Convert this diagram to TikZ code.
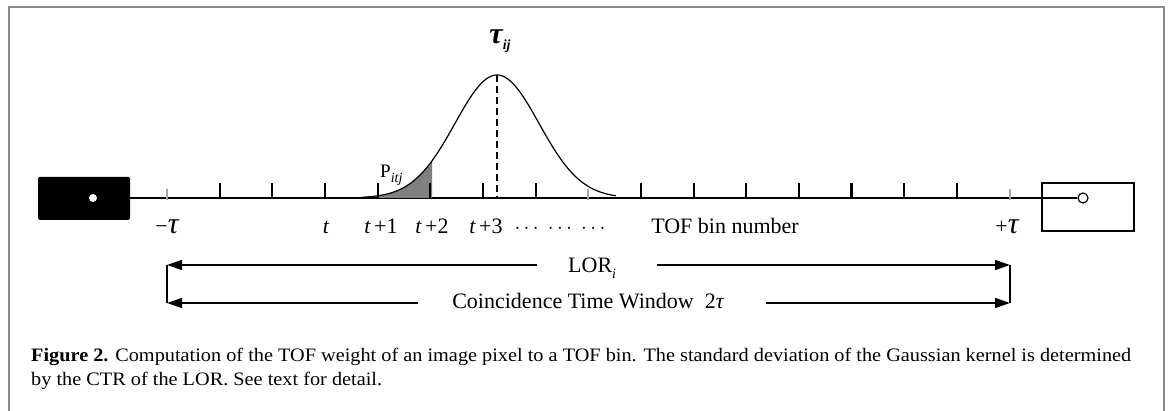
\documentclass[tikz,border=0pt]{standalone}
\usepackage{fontspec}
\setmainfont{Liberation Serif}
\usetikzlibrary{arrows.meta}

\tikzset{
  axisline/.style={line width=2.4pt},
  tickblk/.style={line width=2.2pt},
  tickgry/.style={line width=2pt, draw=black!35},
  lbl/.style={font=\fontsize{22}{24}\selectfont, inner sep=0pt},
  dimline/.style={line width=1.5pt},
  dimarrow/.style={line width=1.5pt, -{Triangle[length=15pt,width=10pt]}},
  kernel/.style={line width=1.2pt},
  frameline/.style={line width=2pt, draw=black!45},
}

% Gaussian kernel: centre, peak height, sigma (px), baseline
\def\gc{497}
\def\gh{123}
\def\gs{42}
\def\gb{198}

\newcommand{\sub}[1]{\raisebox{-0.5ex}{\fontsize{14}{14}\selectfont\itshape #1}}
\newcommand{\bigtau}{{\fontsize{30}{30}\selectfont\itshape τ}}
\newcommand{\capline}{\textbf{Figure 2.} Computation of the TOF weight of an image pixel to a TOF bin. The standard deviation of the Gaussian kernel is determined}
\newlength\caplen

\begin{document}
\settowidth\caplen{\fontsize{19}{23}\selectfont\capline}%
\pgfmathsetmacro\capsx{1100/\caplen}%
\begin{tikzpicture}[x=1pt,y=-1pt]
\useasboundingbox (0,0) rectangle (1168,411);

% outer frame, open at the bottom
\begin{scope}
  \clip (0,0) rectangle (1168,411);
  \draw[frameline] (8.5,430) -- (8.5,7) -- (1164,7) -- (1164,430);
\end{scope}

% detectors
\node[fill=black, rounded corners=1.5pt, minimum width=92pt, minimum height=43pt,
      inner sep=0pt] (detL) at (84,198.5) {};
\node[draw=black, line width=2pt, minimum width=92pt, minimum height=48pt,
      inner sep=0pt] (detR) at (1088,207) {};
\node[circle, fill=white, minimum size=8pt, inner sep=0pt] (ptL) at (93,198) {};
\node[circle, draw=black, fill=white, line width=1.2pt, minimum size=10pt, inner sep=0pt] (ptR) at (1083,198) {};

% line of response
\draw[axisline] (ptL) -- (ptR);

% shaded weight between bins t+1 and t+2
\fill[black!50] (379,\gb) -- plot[domain=379:432, samples=40]
  (\x, {\gb-\gh*exp(-0.5*((\x-\gc)/\gs)^2)}) -- (432,\gb) -- cycle;

% TOF bin ticks
\foreach \k in {0,...,16} {
  \pgfmathsetmacro\tx{167+52.66*\k}
  \coordinate (tk\k) at (\tx,198);
  \ifnum\k=0 \draw[tickgry] (\tx,189) -- (\tx,200);
  \else\ifnum\k=8 \draw[tickgry] (\tx,189) -- (\tx,200);
  \else\ifnum\k=16 \draw[tickgry] (\tx,189) -- (\tx,200);
  \else \draw[tickblk] (\tx,183) -- (\tx,198.5);
  \fi\fi\fi
}

% Gaussian kernel and its centre
\draw[kernel] plot[domain=362:616, samples=120]
  (\x, {\gb-\gh*exp(-0.5*((\x-\gc)/\gs)^2)});
\coordinate (peak) at (\gc,{\gb-\gh});
\coordinate (foot) at (\gc,\gb);
\draw[line width=1.2pt, dash pattern=on 7pt off 4pt] (peak) -- (foot);

% labels
\node[lbl, anchor=base] (tauij) at (500,44) {\bfseries\bigtau\sub{ij}};
\node[lbl, anchor=base west, font=\fontsize{19}{20}\selectfont] (pitj) at (380,178) {P\sub{itj}};
\node[lbl, anchor=base] (mtau) at (167,234) {−\bigtau};
\node[lbl, anchor=base] (lt)   at (326,234) {\itshape t};
\node[lbl, anchor=base] (lt1)  at (381,234) {{\itshape t}\,+1};
\node[lbl, anchor=base] (lt2)  at (432,234) {{\itshape t}\,+2};
\node[lbl, anchor=base] (lt3)  at (486,234) {{\itshape t}\,+3};
\node[lbl, anchor=base] (dots) at (560,234) {$\cdots$\, $\cdots$\, $\cdots$};
\node[lbl, anchor=base] (bin)  at (725,234) {TOF bin number};
\node[lbl, anchor=base] (ptau) at (1007,234) {+\bigtau};

% LOR span and coincidence window
\coordinate (lorL) at (167,265);
\coordinate (lorR) at (1010,265);
\coordinate (ctwL) at (167,303);
\coordinate (ctwR) at (1010,303);
\node[lbl, anchor=base west] (lor) at (568,273) {LOR\sub{i}};
\node[lbl] (ctw) at (588,301) {Coincidence Time Window\ \ 2{\itshape τ}};

\draw[dimline] (lorL) -- (ctwL);
\draw[dimline] (lorR) -- (ctwR);
\draw[dimarrow] (537,265) -- (lorL);
\draw[dimarrow] (657,265) -- (lorR);
\draw[dimarrow] (418,303) -- (ctwL);
\draw[dimarrow] (766,303) -- (ctwR);

% caption
\node[anchor=west, inner sep=0pt] (cap1) at (31,357)
  {\scalebox{\capsx}[1]{\fontsize{19}{23}\selectfont\capline}};
\node[anchor=west, inner sep=0pt] (cap2) at (31,381)
  {\scalebox{\capsx}[1]{\fontsize{19}{23}\selectfont by the CTR of the LOR. See text for detail.}};
\end{tikzpicture}
\end{document}
